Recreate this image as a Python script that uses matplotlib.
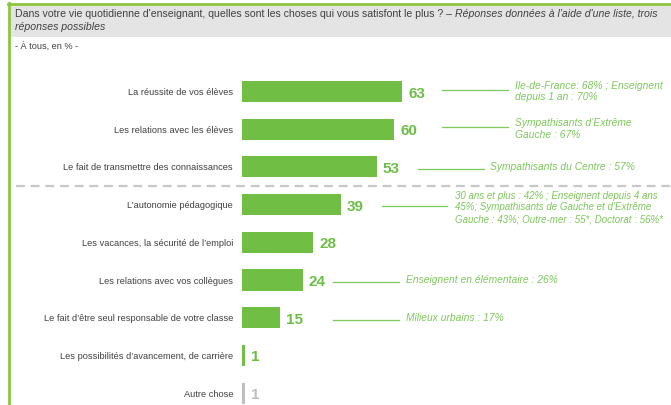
import matplotlib
matplotlib.use("Agg")
import matplotlib.pyplot as plt
from matplotlib.patches import Rectangle
from matplotlib.lines import Line2D

plt.rcParams['font.family'] = ['Liberation Sans', 'DejaVu Sans']

categories = [
    "La réussite de vos élèves",
    "Les relations avec les élèves",
    "Le fait de transmettre des connaissances",
    "L’autonomie pédagogique",
    "Les vacances, la sécurité de l’emploi",
    "Les relations avec vos collègues",
    "Le fait d’être seul responsable de votre classe",
    "Les possibilités d’avancement, de carrière",
    "Autre chose",
]
values = [63, 60, 53, 39, 28, 24, 15, 1, 1]
notes = [
    "Ile-de-France: 68% ; Enseignent\ndepuis 1 an : 70%",
    "Sympathisants d’Extrême\nGauche : 67%",
    "Sympathisants du Centre : 57%",
    "30 ans et plus : 42% ; Enseignent depuis 4 ans\n45%; Sympathisants de Gauche et d’Extrême\nGauche : 43%; Outre-mer : 55*, Doctorat : 56%*",
    "",
    "Enseignent en élémentaire : 26%",
    "Milieux urbains : 17%",
    "",
    "",
]
title_normal = "Dans votre vie quotidienne d'enseignant, quelles sont les choses qui vous satisfont le plus ? – "
title_italic1 = "Réponses données à l'aide d'une liste, trois"
title_italic2 = "réponses possibles"
subtitle = "- À tous, en % -"

W, H = 671, 406
fig = plt.figure(figsize=(W / 100, H / 100), dpi=100)

GREEN = "#70bf44"
GREEN_TXT = "#6cbf45"
NOTE_GREEN = "#7ec85c"
GRAY_BAR = "#bfbfbf"
TXT = "#404040"

# frame: left green line and top green line, grey header
fig.add_artist(Rectangle((9 / W, 1 - 38 / H), 1 - 9 / W, 33 / H, transform=fig.transFigure,
                         facecolor="#e4e4e4", edgecolor="none"))
fig.add_artist(Line2D([8 / W, 1], [1 - 4.5 / H, 1 - 4.5 / H], transform=fig.transFigure,
                      color="#8cc63f", lw=2))
fig.add_artist(Line2D([8.5 / W, 8.5 / W], [0, 1 - 4 / H], transform=fig.transFigure,
                      color="#8cc63f", lw=2))

TFS = 7.6
t1 = fig.text(15 / W, 1 - 17 / H, title_normal, fontsize=TFS, color=TXT, va="baseline")
fig.canvas.draw()
bb = t1.get_window_extent()
fig.text(bb.x1 / W, 1 - 17 / H, title_italic1, fontsize=TFS, color=TXT, style="italic", va="baseline")
fig.text(15 / W, 1 - 30 / H, title_italic2, fontsize=TFS, color=TXT, style="italic", va="baseline")
fig.text(15 / W, 1 - 49 / H, subtitle, fontsize=6.6, color=TXT, va="baseline")

# axes: bar base at x=242px, 2.54 px per unit; rows 37.7 px apart, first center at y=92px
px_per_unit = 2.54
row = 37.7
y0 = 92.5
top_px = y0 - 0.5 * row
ax = fig.add_axes([242 / W, 0, 1 - 242 / W, (H - top_px) / H])
ax.set_xlim(0, (W - 242) / px_per_unit)
ax.set_ylim((H - y0) / row, -0.5)
ax.axis("off")

colors = [GREEN] * (len(values) - 1) + [GRAY_BAR]
txtcolors = [GREEN_TXT] * (len(values) - 1) + [GRAY_BAR]
ys = list(range(len(values)))
ax.barh(ys, values, height=0.56, color=colors, edgecolor="none")

for y, v, c, lab, tc in zip(ys, values, colors, categories, txtcolors):
    ax.annotate(lab, xy=(0, y), xytext=(-9, 0), textcoords="offset pixels",
                ha="right", va="center", fontsize=6.7, color=TXT, annotation_clip=False)
    ax.annotate(str(v), xy=(v, y), xytext=(6, -1), textcoords="offset pixels",
                ha="left", va="center", fontsize=11, fontweight="bold", color=tc,
                annotation_clip=False)

# annotation connector lines (pixel layout)
note_lines = {0: (442, 508, 515), 1: (442, 508, 515), 2: (418, 484, 490),
              3: (382, 447, 455), 5: (333, 399, 406), 6: (333, 399, 406)}
for i, (xa, xb, xt) in note_lines.items():
    xa_d, xb_d, xt_d = [(p - 242) / px_per_unit for p in (xa, xb, xt)]
    yy = i + (-2 / row if i < 2 else 0.05)
    ax.plot([xa_d, xb_d], [yy, yy], color=NOTE_GREEN, lw=0.9, clip_on=False)
    ty = i - 0.03 if i != 3 else i + 0.05
    fs = 7.35 if i != 3 else 7.05
    ax.text(xt_d, ty, notes[i], ha="left", va="center", fontsize=fs, style="italic",
            color=NOTE_GREEN, linespacing=1.2, clip_on=False)

# dashed separator
ax.plot([(16 - 242) / px_per_unit, (W - 242) / px_per_unit], [2.5, 2.5], color="#c8c8c8",
        lw=1.6, dashes=(4, 2.6), clip_on=False)

fig.savefig("out.png", dpi=100)
